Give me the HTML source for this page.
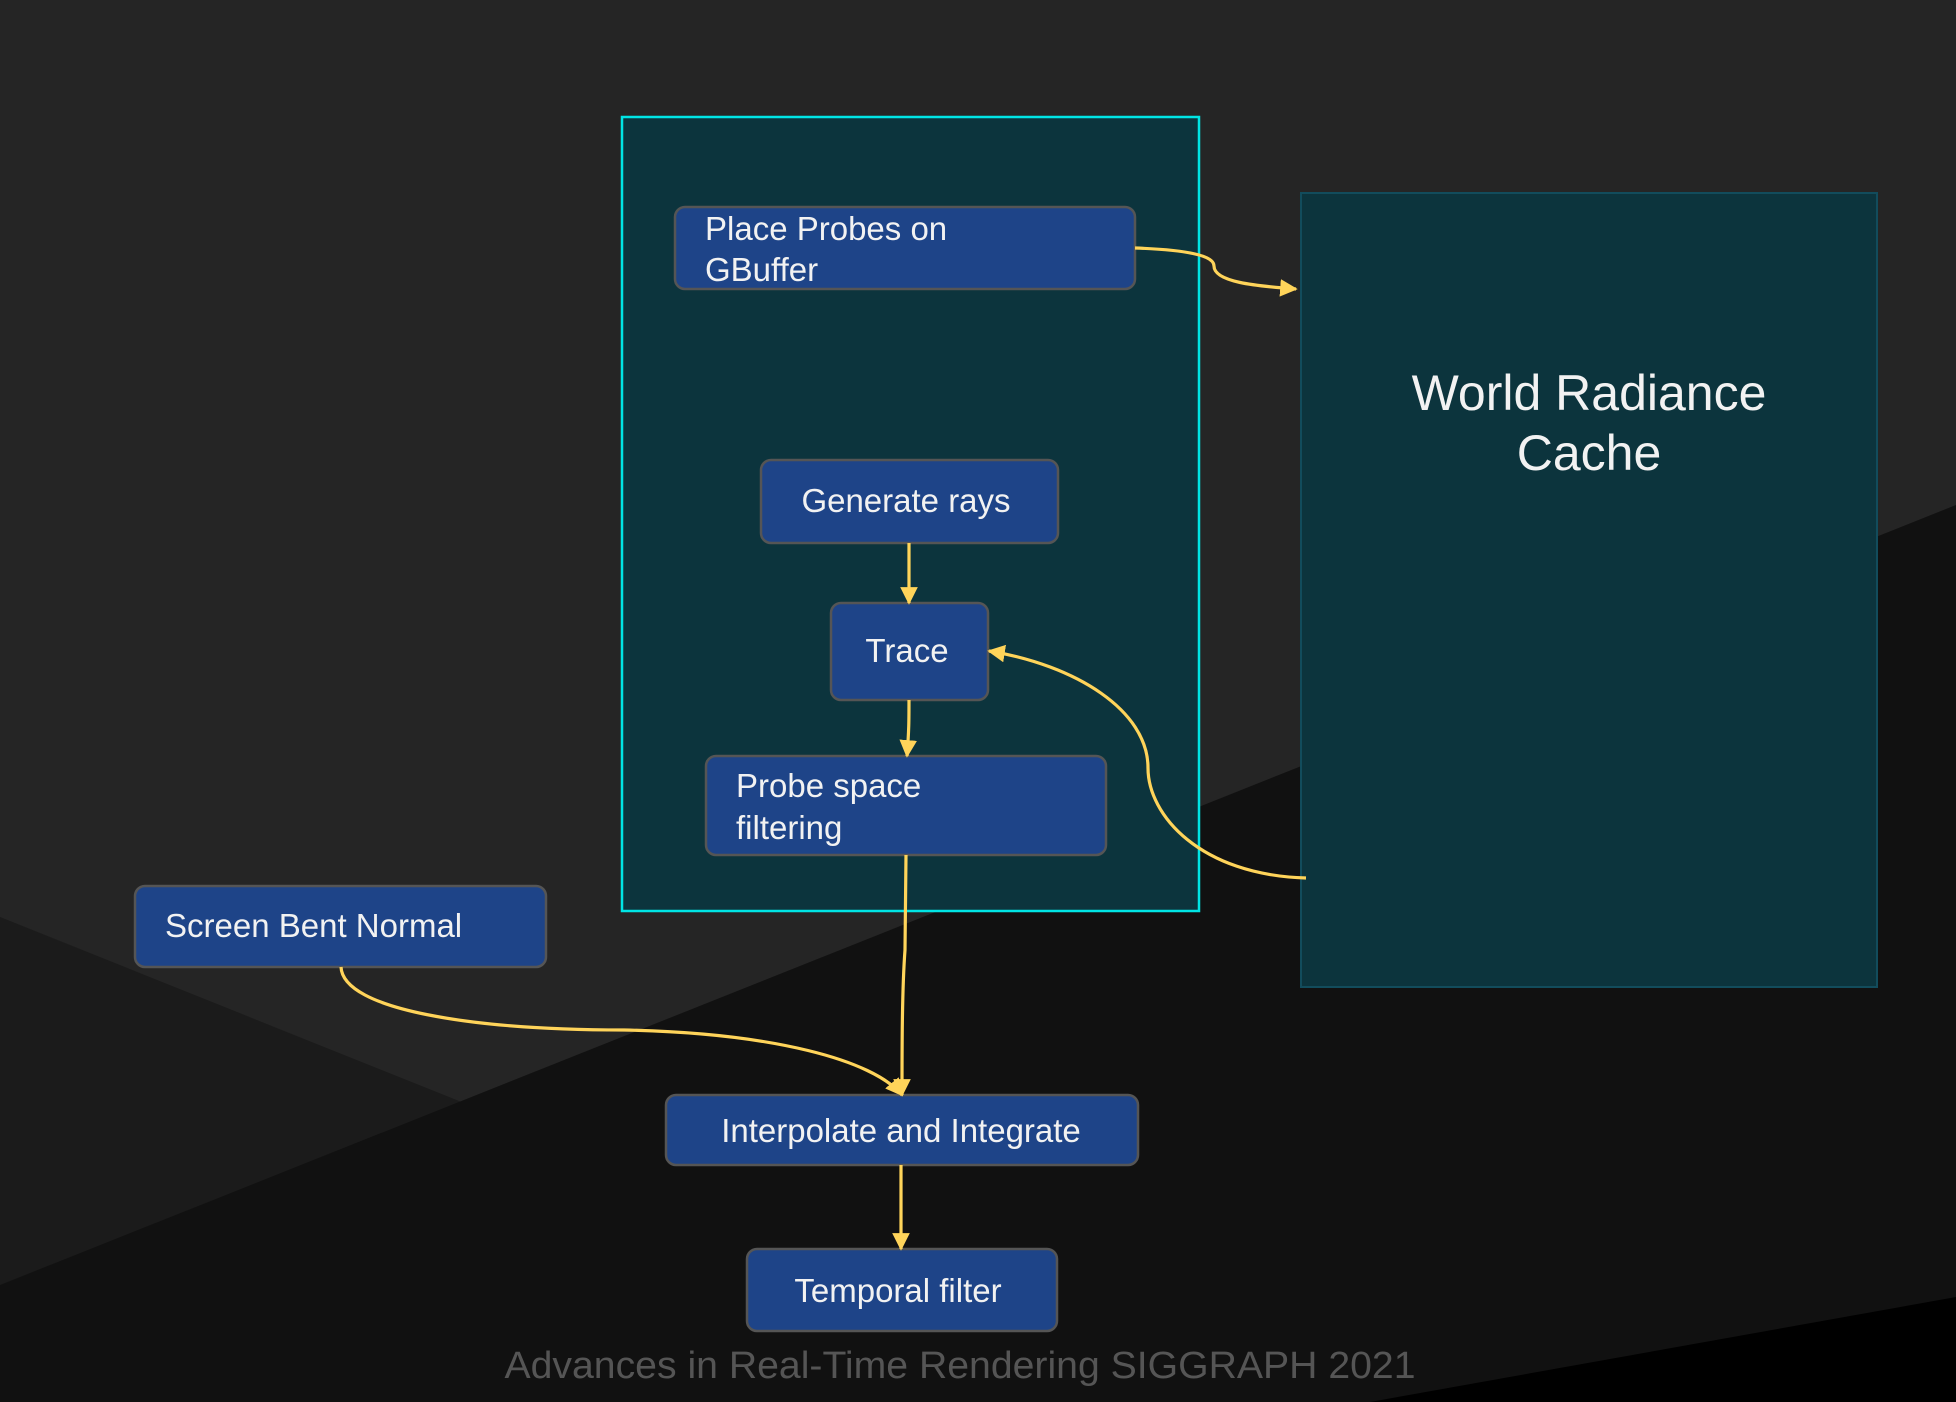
<!DOCTYPE html>
<html><head><meta charset="utf-8"><style>
html,body{margin:0;padding:0;background:#252525;}
svg{display:block;}
text{font-family:"Liberation Sans",sans-serif;fill:#f2f2f2;}
</style></head><body>
<svg width="1956" height="1402" viewBox="0 0 1956 1402" xmlns="http://www.w3.org/2000/svg">
<defs>
<marker id="a" viewBox="0 0 10 10" refX="9" refY="5" markerWidth="5.5" markerHeight="5.5" markerUnits="strokeWidth" orient="auto">
<path d="M0,0 L10,5 L0,10 z" fill="#ffd45a"/></marker>
</defs>
<rect width="1956" height="1402" fill="#252525"/>
<polygon points="0,917 464,1103 0,1285" fill="#1b1b1b"/>
<polygon points="0,1285 1956,505 1956,1402 0,1402" fill="#111111"/>
<polygon points="1370,1402 1956,1297 1956,1402" fill="#000"/>

<rect x="622" y="117" width="577" height="794" fill="#0c343d" stroke="#00e5e5" stroke-width="2.5"/>
<rect x="1301" y="193" width="576" height="794" fill="#0c343d" stroke="#124c5c" stroke-width="2"/>
<text x="1589" y="410" font-size="50" text-anchor="middle">World Radiance</text>
<text x="1589" y="470" font-size="50" text-anchor="middle">Cache</text>

<g fill="#1e4488" stroke="#555" stroke-width="2.5">
<rect x="675" y="207" width="460" height="82" rx="10"/>
<rect x="761" y="460" width="297" height="83" rx="10"/>
<rect x="831" y="603" width="157" height="97" rx="10"/>
<rect x="706" y="756" width="400" height="99" rx="10"/>
<rect x="135" y="886" width="411" height="81" rx="10"/>
<rect x="666" y="1095" width="472" height="70" rx="10"/>
<rect x="747" y="1249" width="310" height="82" rx="10"/>
</g>
<g font-size="33">
<text x="705" y="240">Place Probes on</text>
<text x="705" y="281">GBuffer</text>
<text x="906" y="512" text-anchor="middle">Generate rays</text>
<text x="907" y="662" text-anchor="middle">Trace</text>
<text x="736" y="797">Probe space</text>
<text x="736" y="839">filtering</text>
<text x="165" y="937">Screen Bent Normal</text>
<text x="901" y="1142" text-anchor="middle">Interpolate and Integrate</text>
<text x="898" y="1302" text-anchor="middle">Temporal filter</text>
</g>
<text x="960" y="1378" font-size="38" text-anchor="middle" textLength="911" lengthAdjust="spacingAndGlyphs" style="fill:#555">Advances in Real-Time Rendering SIGGRAPH 2021</text>

<g fill="none" stroke="#ffd45a" stroke-width="3.2" marker-end="url(#a)">
<path d="M1135,248 C1190,250 1214,256 1214,266 C1214,282 1255,286 1296,289"/>
<path d="M909,543 L909,603"/>
<path d="M909,700 C909,720 909,730 907,756"/>
<path d="M1306,878 C1200,875 1148,815 1148,768 C1148,710 1075,665 989,651"/>
<path d="M906,855 L905,950 C902,990 902,1050 902,1095"/>
<path d="M341,967 C343,1010 474,1030 624,1030 C773,1033 873,1060 902,1095"/>
<path d="M901,1165 L901,1249"/>
</g>
</svg>
</body></html>
